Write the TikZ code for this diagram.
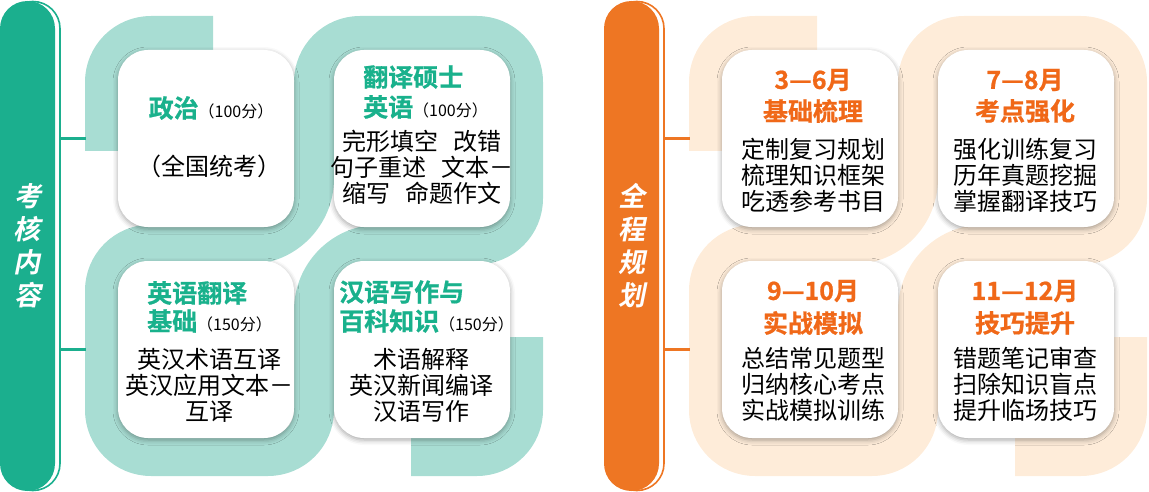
\documentclass[tikz,border=0pt]{standalone}
\usepackage{fontspec}
\usepackage{tikz}
\usetikzlibrary{positioning, shadows.blur}
\newfontfamily\bodyfont{Noto Sans CJK SC}
\newfontfamily\headfont{Noto Sans CJK SC Bold}[FakeBold=0.8]
\newfontfamily\barfont{Noto Sans CJK SC Bold}[FakeSlant=0.2]
\newcommand\fenshu[1]{{\bodyfont\fontsize{16}{18}\selectfont\color{black}#1}}
\definecolor{kaogreen}{RGB}{27,175,142}
\definecolor{bandgreen}{RGB}{168,221,211}
\definecolor{headgreen}{RGB}{25,177,140}
\definecolor{guiorange}{RGB}{238,118,35}
\definecolor{bandorange}{RGB}{254,236,217}
\definecolor{headorange}{RGB}{240,104,24}

\begin{document}
\begin{tikzpicture}[x=1pt, y=-1pt, line cap=butt, line join=round,
    cell/.style={fill=white, rounded corners=30pt, minimum width=176pt, minimum height=177pt, inner sep=0pt,
        blur shadow={shadow xshift=0pt, shadow yshift=-2pt, shadow blur radius=5pt, shadow opacity=35}},
    ribbon/.style={line width=40pt},
    headtxt/.style={inner sep=0pt, font=\headfont\fontsize{25}{28}\selectfont},
    bodytxt/.style={inner sep=0pt, align=center, font=\bodyfont\fontsize{24}{26}\selectfont},
    sidebar/.style={rounded corners=27.5pt, minimum width=55pt, minimum height=490pt, inner sep=0pt,
        align=center, text=white, font=\barfont\fontsize{27}{33}\selectfont},
    stub/.style={line width=3.5pt}]
    \useasboundingbox (0,0) rectangle (1149,492);

    % left panel
    \draw [ribbon, bandgreen, rounded corners=46pt] (213,36) -- (105,36) -- (105,151);
    \draw [ribbon, bandgreen, rounded corners=46pt] (523,337) -- (523,456) -- (411,456);
    \draw [ribbon, bandgreen, rounded corners=46pt] (314,150) -- (314,36) -- (523,36) -- (523,244.5) -- (410,244.5);
    \draw [ribbon, bandgreen, rounded corners=66pt] (420,244.5) -- (314,244.5) -- (314,360);
    \draw [ribbon, bandgreen, rounded corners=46pt] (314,350) -- (314,456) -- (105,456) -- (105,244.5) -- (220,244.5);
    \draw [ribbon, bandgreen, rounded corners=66pt] (210,244.5) -- (314,244.5) -- (314,130);

    \node [cell] (A1) at (206,138.5) {};
    \node [cell] (B1) at (422,138.5) {};
    \node [cell] (C1) at (206,349.5) {};
    \node [cell] (D1) at (422,349.5) {};

    \node [headtxt, headgreen] (A1t) at (211,108) {政治\fenshu{（100分）}};
    \node [bodytxt] (A1b) at (209,166) {（全国统考）};
    \node [headtxt, headgreen, anchor=west] (B1t) at (363,77) {翻译硕士};
    \node [headtxt, headgreen, anchor=west] (B1u) at (363,107) {英语\fenshu{（100分）}};
    \node [bodytxt] (B1b) at (422,167) {完形填空\hspace{0.6em}改错\\句子重述\hspace{0.6em}文本－\\缩写\hspace{0.6em}命题作文};
    \node [headtxt, headgreen, anchor=west] (C1t) at (147,293) {英语翻译};
    \node [headtxt, headgreen, anchor=west] (C1u) at (147,321) {基础\fenshu{（150分）}};
    \node [bodytxt] (C1b) at (209,385) {英汉术语互译\\英汉应用文本－\\互译};
    \node [headtxt, headgreen, anchor=west] (D1t) at (339,292) {汉语写作与};
    \node [headtxt, headgreen, anchor=west] (D1u) at (339,321) {百科知识\fenshu{（150分）}};
    \node [bodytxt] (D1b) at (421,385) {术语解释\\英汉新闻编译\\汉语写作};

    \draw [kaogreen, line width=1.6pt, rounded corners=27pt] (5.5,1.5) rectangle (60,490.5);
    \node [sidebar, fill=kaogreen] (S1) at (27.5,246) {考\\核\\内\\容};
    \coordinate (P1) at (60,138.5);
    \coordinate (Q1) at (86,138.5);
    \coordinate (P2) at (60,349.5);
    \coordinate (Q2) at (86,349.5);
    \draw [stub, kaogreen] (P1) -- (Q1);
    \draw [stub, kaogreen] (P2) -- (Q2);

    % right panel
    \begin{scope}[xshift=604pt]
    \draw [ribbon, bandorange, rounded corners=46pt] (213,36) -- (105,36) -- (105,151);
    \draw [ribbon, bandorange, rounded corners=46pt] (523,337) -- (523,456) -- (411,456);
    \draw [ribbon, bandorange, rounded corners=46pt] (314,150) -- (314,36) -- (523,36) -- (523,244.5) -- (410,244.5);
    \draw [ribbon, bandorange, rounded corners=66pt] (420,244.5) -- (314,244.5) -- (314,360);
    \draw [ribbon, bandorange, rounded corners=46pt] (314,350) -- (314,456) -- (105,456) -- (105,244.5) -- (220,244.5);
    \draw [ribbon, bandorange, rounded corners=66pt] (210,244.5) -- (314,244.5) -- (314,130);

    \node [cell] (A2) at (206,138.5) {};
    \node [cell] (B2) at (422,138.5) {};
    \node [cell] (C2) at (206,349.5) {};
    \node [cell] (D2) at (422,349.5) {};

    \node [headtxt, headorange] (A2t) at (209,80) {3—6月};
    \node [headtxt, headorange] (A2u) at (209,111) {基础梳理};
    \node [bodytxt] (A2b) at (209,175) {定制复习规划\\梳理知识框架\\吃透参考书目};
    \node [headtxt, headorange] (B2t) at (421,80) {7—8月};
    \node [headtxt, headorange] (B2u) at (421,111) {考点强化};
    \node [bodytxt] (B2b) at (421,175) {强化训练复习\\历年真题挖掘\\掌握翻译技巧};
    \node [headtxt, headorange] (C2t) at (209,291) {9—10月};
    \node [headtxt, headorange] (C2u) at (209,323) {实战模拟};
    \node [bodytxt] (C2b) at (209,384.5) {总结常见题型\\归纳核心考点\\实战模拟训练};
    \node [headtxt, headorange] (D2t) at (421,291) {11—12月};
    \node [headtxt, headorange] (D2u) at (421,323) {技巧提升};
    \node [bodytxt] (D2b) at (421,384.5) {错题笔记审查\\扫除知识盲点\\提升临场技巧};

    \draw [guiorange, line width=1.6pt, rounded corners=27pt] (5.5,1.5) rectangle (60,490.5);
    \node [sidebar, fill=guiorange] (S2) at (27.5,246) {全\\程\\规\\划};
    \coordinate (P3) at (60,138.5);
    \coordinate (Q3) at (86,138.5);
    \coordinate (P4) at (60,349.5);
    \coordinate (Q4) at (86,349.5);
    \draw [stub, guiorange] (P3) -- (Q3);
    \draw [stub, guiorange] (P4) -- (Q4);
    \end{scope}
\end{tikzpicture}
\end{document}
